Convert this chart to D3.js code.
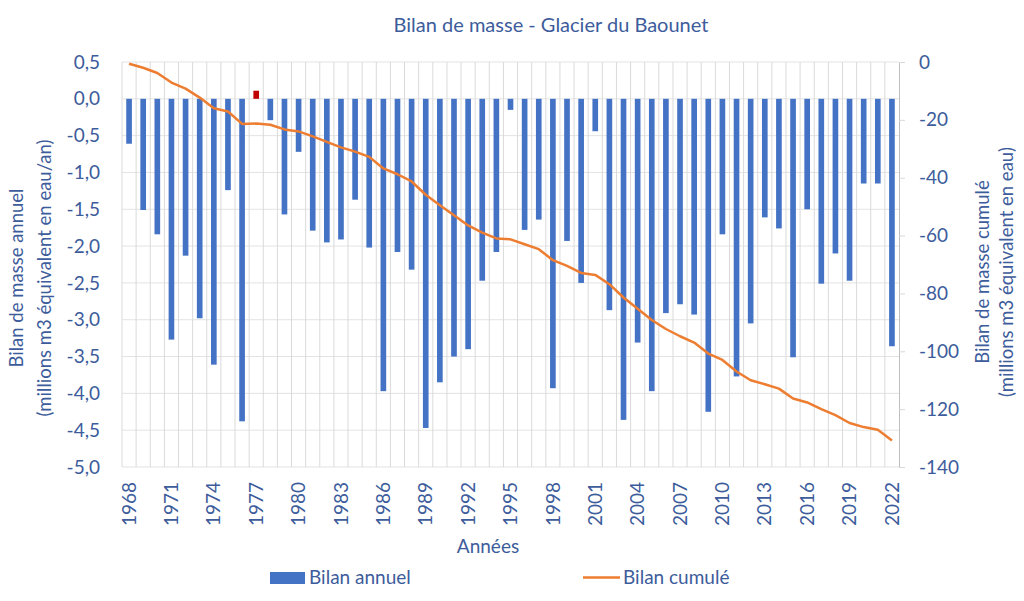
<!DOCTYPE html>
<html>
<head>
<meta charset="utf-8">
<script src="https://cdn.jsdelivr.net/npm/d3@7"></script>
<style>
  body { margin: 0; background: #fff; }
  svg text { font-family: Lato, "Open Sans", sans-serif; fill: #3d5c9b; }
</style>
</head>
<body>
<div id="chart"></div>
<script>
// Bilan de masse - Glacier du Baounet
// values

var years = [];
for (var y = 1968; y <= 2022; y++) years.push(y);

// bilan annuel (millions m3 eq. eau / an), 1968 -> 2022
var annual = [
  -0.61, -1.51, -1.84, -3.27, -2.13, -2.98, -3.61, -1.24, -4.38, 0.11,
  -0.29, -1.57, -0.72, -1.79, -1.95, -1.91, -1.37, -2.02, -3.97, -2.08,
  -2.32, -4.47, -3.85, -3.50, -3.40, -2.47, -2.08, -0.15, -1.78, -1.64,
  -3.93, -1.93, -2.50, -0.44, -2.87, -4.36, -3.31, -3.97, -2.91, -2.79,
  -2.93, -4.25, -1.84, -3.77, -3.05, -1.61, -1.76, -3.51, -1.50, -2.51,
  -2.10, -2.47, -1.15, -1.15, -3.36
];

// bilan cumulé (millions m3 eq. eau), 1968 -> 2022
var cumul = [
  -0.6, -2.0, -3.8, -7.1, -9.2, -12.3, -16.0, -17.1, -21.4, -21.3,
  -21.7, -23.3, -24.0, -25.7, -27.6, -29.5, -31.0, -32.8, -36.8, -38.8,
  -41.3, -45.9, -49.5, -53.0, -56.5, -59.0, -61.0, -61.3, -63.0, -64.7,
  -68.5, -70.5, -72.9, -73.6, -76.8, -81.4, -85.3, -89.2, -92.3, -94.8,
  -97.0, -100.8, -103.0, -107.0, -110.0, -111.4, -112.9, -116.3, -117.7, -120.0,
  -122.1, -124.8, -126.2, -127.1, -130.8
];

var leftTicks = [0.5, 0, -0.5, -1, -1.5, -2, -2.5, -3, -3.5, -4, -4.5, -5];
var rightTicks = [0, -20, -40, -60, -80, -100, -120, -140];
var yearTicks = years.filter(function(d){ return (d - 1968) % 3 === 0; });

var svgWidth = 1024, svgHeight = 601;
var margin = {top: 62, right: 125, bottom: 134, left: 122};
var width = svgWidth - margin.left - margin.right;
var height = svgHeight - margin.top - margin.bottom;

var svg = d3.select("#chart").append("svg")
    .attr("width", svgWidth)
    .attr("height", svgHeight);

var g = svg.append("g")
    .attr("transform", `translate(${margin.left}, ${margin.top})`);

var xScale = d3.scaleBand().domain(years).range([0, width]).padding(0);
var yLeft = d3.scaleLinear().domain([-5, 0.5]).range([height, 0]);
var yRight = d3.scaleLinear().domain([-140, 0]).range([height, 0]);

// french number format: comma decimal, plain hyphen
var fr = d3.formatLocale({decimal: ",", thousands: " ", grouping: [3], currency: ["", " €"], minus: "-"});
var fmt1 = fr.format(".1f");
var fmt0 = fr.format("d");

// gridlines
g.append("g").selectAll("line.h")
    .data(leftTicks)
    .enter().append("line")
    .attr("x1", 0).attr("x2", width)
    .attr("y1", d => yLeft(d)).attr("y2", d => yLeft(d))
    .attr("stroke", "#e3e3e3").attr("stroke-width", 1);

g.append("g").selectAll("line.v")
    .data(years)
    .enter().append("line")
    .attr("x1", d => xScale(d)).attr("x2", d => xScale(d))
    .attr("y1", 0).attr("y2", height)
    .attr("stroke", "#dadada").attr("stroke-width", 1);

// bars
var barW = xScale.bandwidth() * 0.4;
g.append("g").selectAll("rect")
    .data(annual)
    .enter().append("rect")
    .attr("x", (d, i) => xScale(years[i]) + (xScale.bandwidth() - barW) / 2)
    .attr("y", d => yLeft(Math.max(0, d)))
    .attr("width", barW)
    .attr("height", d => Math.abs(yLeft(d) - yLeft(0)))
    .attr("fill", d => d > 0 ? "#c00000" : "#4472c4");

// cumulative line on right axis
var line = d3.line()
    .x((d, i) => xScale(years[i]) + xScale.bandwidth() / 2)
    .y(d => yRight(d));

g.append("path")
    .datum(cumul)
    .attr("fill", "none")
    .attr("stroke", "#ed7d31")
    .attr("stroke-width", 2.5)
    .attr("stroke-linejoin", "round")
    .attr("d", line);

// left axis
var leftAxis = g.append("g")
    .call(d3.axisLeft(yLeft).tickValues(leftTicks).tickFormat(fmt1).tickSize(0).tickPadding(22));
leftAxis.select(".domain").remove();
leftAxis.selectAll("text").style("font-size", "19px").attr("fill", "#3d5c9b");

// right axis
var rightAxis = g.append("g")
    .attr("transform", `translate(${width}, 0)`)
    .call(d3.axisRight(yRight).tickValues(rightTicks).tickFormat(fmt0).tickSizeInner(6).tickSizeOuter(0).tickPadding(14));
rightAxis.select(".domain").attr("stroke", "#bfbfbf");
rightAxis.selectAll("line").attr("stroke", "#d9d9d9");
rightAxis.selectAll("text").style("font-size", "19px").attr("fill", "#3d5c9b");

// bottom axis (years)
var xAxis = g.append("g")
    .attr("transform", `translate(0, ${height})`)
    .call(d3.axisBottom(xScale).tickValues(yearTicks).tickSize(0));
xAxis.select(".domain").remove();
xAxis.selectAll("text")
    .attr("transform", "rotate(-90)")
    .attr("x", -15)
    .attr("y", 0)
    .attr("dy", "0.35em")
    .style("text-anchor", "end")
    .style("font-size", "19px")
    .attr("fill", "#3d5c9b");

// title
svg.append("text")
    .attr("x", 551).attr("y", 32)
    .attr("text-anchor", "middle")
    .style("font-size", "20px")
    .text("Bilan de masse - Glacier du Baounet");

// axis titles
svg.append("text")
    .attr("transform", "translate(488, 553)")
    .attr("text-anchor", "middle")
    .style("font-size", "19px")
    .text("Années");

var leftTitle = svg.append("text")
    .attr("transform", "translate(17, 278) rotate(-90)")
    .attr("text-anchor", "middle")
    .style("font-size", "18.5px");
leftTitle.append("tspan").attr("x", 0).attr("dy", "0.35em").text("Bilan de masse annuel");
leftTitle.append("tspan").attr("x", 0).attr("dy", "28px").text("(millions m3 équivalent en eau/an)");

var rightTitle = svg.append("text")
    .attr("transform", "translate(983, 272) rotate(-90)")
    .attr("text-anchor", "middle")
    .style("font-size", "18.5px");
rightTitle.append("tspan").attr("x", 0).attr("dy", "0.35em").text("Bilan de masse cumulé");
rightTitle.append("tspan").attr("x", 0).attr("dy", "24px").text("(millions m3 équivalent en eau)");

// legend
var legend = svg.append("g");
legend.append("rect")
    .attr("x", 270).attr("y", 572).attr("width", 35).attr("height", 12)
    .attr("fill", "#4472c4");
legend.append("text")
    .attr("x", 309).attr("y", 584)
    .style("font-size", "19px")
    .text("Bilan annuel");
legend.append("line")
    .attr("x1", 583).attr("x2", 620).attr("y1", 577.5).attr("y2", 577.5)
    .attr("stroke", "#ed7d31").attr("stroke-width", 2.5);
legend.append("text")
    .attr("x", 623).attr("y", 584)
    .style("font-size", "19px")
    .text("Bilan cumulé");
</script>
</body>
</html>
